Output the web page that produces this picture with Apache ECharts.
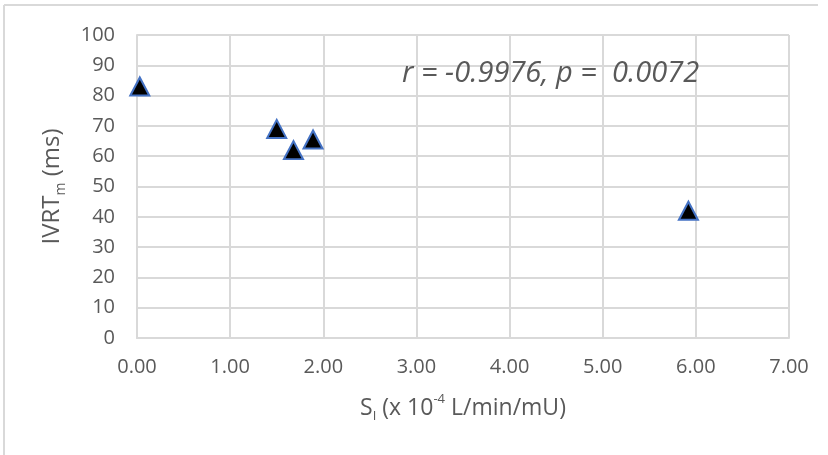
<!DOCTYPE html>
<html>
<head>
<meta charset="utf-8">
<script src="https://cdn.jsdelivr.net/npm/echarts@6/dist/echarts.min.js"></script>
<style>
  html, body { margin: 0; padding: 0; background: #fff; }
  #main { width: 828px; height: 455px; }
</style>
</head>
<body>
<div id="main"></div>
<script>
// data
var siValues = [0.03, 1.50, 1.68, 1.89, 5.92];
var ivrtValues = [83, 69, 62, 65.5, 42];
var statsText = 'r = -0.9976, p =  0.0072';

var points = [];
for (var i = 0; i < siValues.length; i++) {
    points.push([siValues[i], ivrtValues[i]]);
}

var textColor = '#595959';
var gridColor = '#d9d9d9';
var font = '"Open Sans", "Noto Sans", sans-serif';

var chart = echarts.init(document.getElementById('main'));
chart.setOption({
    animation: false,
    backgroundColor: '#fff',
    grid: {
        left: 137,
        right: 39,
        top: 35,
        bottom: 117
    },
    xAxis: {
        type: 'value',
        min: 0,
        max: 7,
        interval: 1,
        axisLine: { show: true, lineStyle: { color: gridColor, width: 2 } },
        axisTick: { show: false },
        splitLine: { show: true, lineStyle: { color: gridColor, width: 2 } },
        axisLabel: {
            color: textColor,
            fontFamily: font,
            fontSize: 20,
            margin: 19,
            formatter: function (v) { return v.toFixed(2); }
        },
        name: '{n|S}{sub|I}{n| (x 10}{sup|-4}{n| L/min/mU)}',
        nameLocation: 'middle',
        nameGap: 55,
        nameTextStyle: {
            rich: {
                n: { fontFamily: font, fontSize: 23, color: textColor, lineHeight: 30, verticalAlign: 'middle' },
                sub: { fontFamily: font, fontSize: 13, color: textColor, lineHeight: 30, verticalAlign: 'bottom' },
                sup: { fontFamily: font, fontSize: 13, color: textColor, lineHeight: 30, verticalAlign: 'top' }
            }
        }
    },
    yAxis: {
        type: 'value',
        min: 0,
        max: 100,
        interval: 10,
        axisLine: { show: true, lineStyle: { color: gridColor, width: 2 } },
        axisTick: { show: false },
        splitLine: { show: true, lineStyle: { color: gridColor, width: 2 } },
        axisLabel: {
            color: textColor,
            fontFamily: font,
            fontSize: 20,
            margin: 22
        },
        name: '{n|IVRT}{sub|m}{n| (ms)}',
        nameLocation: 'middle',
        nameGap: 69,
        nameTextStyle: {
            rich: {
                n: { fontFamily: font, fontSize: 24, color: textColor, lineHeight: 32, verticalAlign: 'middle' },
                sub: { fontFamily: font, fontSize: 14, color: textColor, lineHeight: 32, verticalAlign: 'bottom' }
            }
        }
    },
    graphic: [
        {
            type: 'line',
            shape: { x1: 4, y1: 5, x2: 818, y2: 5 },
            style: { stroke: gridColor, lineWidth: 2 }
        },
        {
            type: 'line',
            shape: { x1: 4, y1: 5, x2: 4, y2: 455 },
            style: { stroke: gridColor, lineWidth: 2 }
        },
        {
            type: 'text',
            left: 402,
            top: 59,
            z: 100,
            style: {
                text: statsText,
                fill: textColor,
                font: 'italic 29px ' + font
            }
        }
    ],
    series: [{
        type: 'scatter',
        data: points,
        symbol: 'triangle',
        symbolSize: [19, 18],
        itemStyle: {
            color: '#000',
            borderColor: '#4472c4',
            borderWidth: 2,
            opacity: 1
        }
    }]
});
</script>
</body>
</html>
